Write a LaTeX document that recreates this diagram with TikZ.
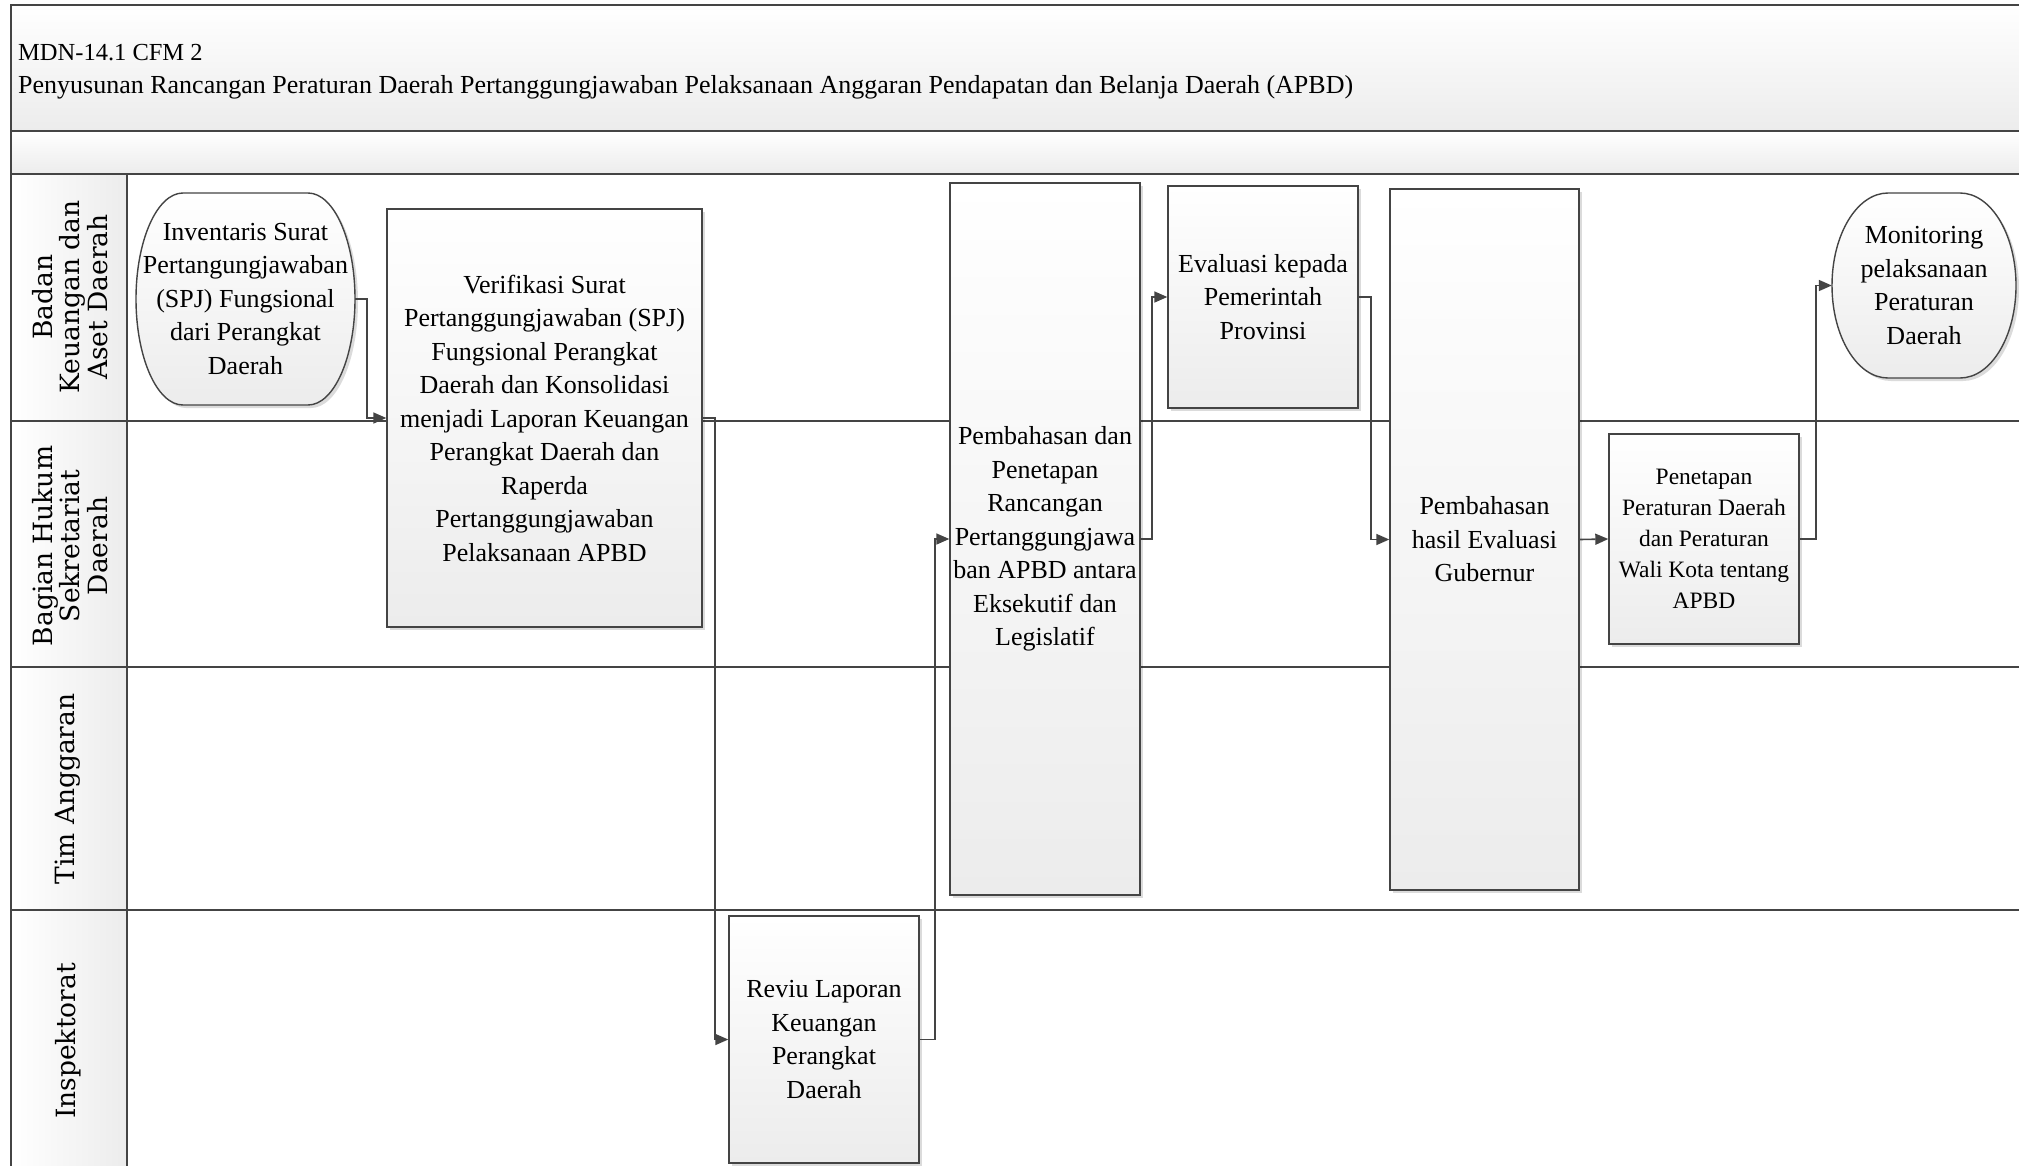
\documentclass[tikz,border=0pt]{standalone}
\usepackage{fontspec}
\setmainfont{Liberation Serif}
\newfontfamily\lanefont{DejaVu Serif}
\usetikzlibrary{shadows,arrows.meta}
\definecolor{ln}{RGB}{68,68,68}
\definecolor{bot}{RGB}{236,236,236}
\begin{document}
\begin{tikzpicture}[x=1pt,y=-1pt,
  boxshadow/.style={drop shadow={shadow xshift=3pt,shadow yshift=-3pt,fill=black,opacity=0.14}},
  boxtext/.style={align=center, inner sep=0pt, font=\fontsize{26}{33.5}\selectfont},
  procbox/.style={boxtext, draw=ln, line width=1.4pt, top color=white, bottom color=bot, boxshadow},
  termshape/.style={draw=ln, line width=1.4pt, top color=white, bottom color=bot, boxshadow},
  lanecell/.style={draw=ln, line width=2pt, left color=white, right color=bot},
  lanebody/.style={draw=ln, line width=2pt, fill=white},
  lanelabel/.style={rotate=90, align=center, font=\lanefont\fontsize{26.5}{27.5}\selectfont},
  flow/.style={draw=ln, line width=1.6pt, -{Triangle[length=13pt,width=11pt]}},
]
\useasboundingbox (0,0) rectangle (2019,1165);
\clip (0,0) rectangle (2019,1165);
\fill[white] (0,0) rectangle (2019,1165);
% header
\path[draw=ln, line width=2pt, top color=white, bottom color=bot] (11,5) rectangle (2040,131);
\path[draw=ln, line width=2pt, top color=white, bottom color=bot] (11,131) rectangle (2040,174);
\node[anchor=base west, inner sep=0pt, font=\fontsize{24.5}{30}\selectfont] (t1) at (18,60) {MDN-14.1 CFM 2};
\node[anchor=base west, inner sep=0pt, font=\fontsize{26}{30}\selectfont] (t2) at (18,93) {Penyusunan Rancangan Peraturan Daerah Pertanggungjawaban Pelaksanaan Anggaran Pendapatan dan Belanja Daerah (APBD)};
% lanes
\path[lanebody] (127,174) rectangle (2040,421);
\path[lanebody] (127,421) rectangle (2040,667);
\path[lanebody] (127,667) rectangle (2040,910);
\path[lanebody] (127,910) rectangle (2040,1172);
\path[lanecell] (11,174) rectangle (127,421);
\path[lanecell] (11,421) rectangle (127,667);
\path[lanecell] (11,667) rectangle (127,910);
\path[lanecell] (11,910) rectangle (127,1172);
\node[lanelabel] (l1) at (70,297) {Badan\\Keuangan dan\\Aset Daerah};
\node[lanelabel] (l2) at (70,546) {Bagian Hukum\\Sekretariat\\Daerah};
\node[lanelabel] (l3) at (68,789) {Tim Anggaran};
\node[lanelabel] (l4) at (68,1041) {Inspektorat};
% terminator shapes (flat top and bottom, elliptic sides)
\path[termshape] (183,193) -- (308,193) arc[start angle=90, end angle=-90, x radius=47pt, y radius=106pt]
   -- (183,405) arc[start angle=270, end angle=90, x radius=47pt, y radius=106pt] -- cycle;
\node[boxtext, minimum width=219pt, minimum height=212pt] (inv) at (245.5,299)
  {Inventaris Surat\\Pertangungjawaban\\(SPJ) Fungsional\\dari Perangkat\\Daerah};
\path[termshape] (1888,193) -- (1960,193) arc[start angle=90, end angle=-90, x radius=56pt, y radius=92.5pt]
   -- (1888,378) arc[start angle=270, end angle=90, x radius=56pt, y radius=92.5pt] -- cycle;
\node[boxtext, minimum width=184pt, minimum height=185pt] (mon) at (1924,285.5)
  {Monitoring\\pelaksanaan\\Peraturan\\Daerah};
% process boxes
\node[procbox, minimum width=315pt, minimum height=418pt] (ver) at (544.5,418)
  {Verifikasi Surat\\Pertanggungjawaban (SPJ)\\Fungsional Perangkat\\Daerah dan Konsolidasi\\menjadi Laporan Keuangan\\Perangkat Daerah dan\\Raperda\\Pertanggungjawaban\\Pelaksanaan APBD};
\node[procbox, minimum width=190pt, minimum height=247pt] (rev) at (824,1039.5)
  {Reviu Laporan\\Keuangan\\Perangkat\\Daerah};
\node[procbox, minimum width=190pt, minimum height=712pt] (pem) at (1045,539)
  {Pembahasan dan\\Penetapan\\Rancangan\\Pertanggungjawa\\ban APBD antara\\Eksekutif dan\\Legislatif};
\node[procbox, minimum width=190pt, minimum height=222pt] (eva) at (1263,297)
  {Evaluasi kepada\\Pemerintah\\Provinsi};
\node[procbox, minimum width=189pt, minimum height=701pt] (has) at (1484.5,539.5)
  {Pembahasan\\hasil Evaluasi\\Gubernur};
\node[procbox, minimum width=190pt, minimum height=210pt, font=\fontsize{23.5}{31}\selectfont] (pen) at (1704,539)
  {Penetapan\\Peraturan Daerah\\dan Peraturan\\Wali Kota tentang\\APBD};
% connectors
\draw[flow] (inv.east) -- ++(12,0) |- (ver.west);
\draw[flow] (ver.east) -- ++(12,0) |- (rev.west);
\draw[flow] (rev.east) -- ++(15,0) |- (pem.west);
\draw[flow] (pem.east) -- ++(11,0) |- (eva.west);
\draw[flow] (eva.east) -- ++(12,0) |- (has.west);
\draw[flow] (has.east) -- (pen.west);
\draw[flow] (pen.east) -- ++(16,0) |- (mon.west);
\end{tikzpicture}
\end{document}
